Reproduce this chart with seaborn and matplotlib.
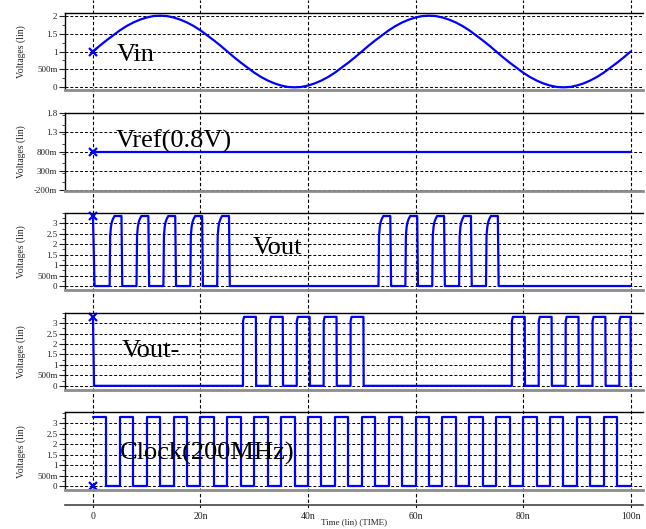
import numpy as np
import pandas as pd
import matplotlib
matplotlib.use("Agg")
import matplotlib.pyplot as plt
from matplotlib.ticker import MultipleLocator
import seaborn as sns

# ---------------- data ----------------
vin_time = [0.00, 1.25, 2.50, 3.75, 5.00, 6.25, 7.50, 8.75, 10.00, 11.25,
            12.50, 13.75, 15.00, 16.25, 17.50, 18.75, 20.00, 21.25, 22.50, 23.75,
            25.00, 26.25, 27.50, 28.75, 30.00, 31.25, 32.50, 33.75, 35.00, 36.25,
            37.50, 38.75, 40.00, 41.25, 42.50, 43.75, 45.00, 46.25, 47.50, 48.75,
            50.00, 51.25, 52.50, 53.75, 55.00, 56.25, 57.50, 58.75, 60.00, 61.25,
            62.50, 63.75, 65.00, 66.25, 67.50, 68.75, 70.00, 71.25, 72.50, 73.75,
            75.00, 76.25, 77.50, 78.75, 80.00, 81.25, 82.50, 83.75, 85.00, 86.25,
            87.50, 88.75, 90.00, 91.25, 92.50, 93.75, 95.00, 96.25, 97.50, 98.75,
            100.00]
vin_volts = [1.00, 1.16, 1.31, 1.45, 1.59, 1.71, 1.81, 1.89, 1.95, 1.99,
             2.00, 1.99, 1.95, 1.89, 1.81, 1.71, 1.59, 1.45, 1.31, 1.16,
             1.00, 0.84, 0.69, 0.55, 0.41, 0.29, 0.19, 0.11, 0.05, 0.01,
             0.00, 0.01, 0.05, 0.11, 0.19, 0.29, 0.41, 0.55, 0.69, 0.84,
             1.00, 1.16, 1.31, 1.45, 1.59, 1.71, 1.81, 1.89, 1.95, 1.99,
             2.00, 1.99, 1.95, 1.89, 1.81, 1.71, 1.59, 1.45, 1.31, 1.16,
             1.00, 0.84, 0.69, 0.55, 0.41, 0.29, 0.19, 0.11, 0.05, 0.01,
             0.00, 0.01, 0.05, 0.11, 0.19, 0.29, 0.41, 0.55, 0.69, 0.84,
             1.00]

vref_time = [0.0, 100.0]
vref_volts = [0.8, 0.8]

# Vout: initial level, pulse start times and the shape of one pulse
vout_init_t = [0.0, 0.3]
vout_init_v = [3.35, 0.0]
vout_pulses = [2.5, 7.5, 12.5, 17.5, 22.5, 52.5, 57.5, 62.5, 67.5, 72.5]
vout_shape_dt = [0.6, 0.7, 0.85, 1.0, 1.2, 1.5, 2.8, 2.95]
vout_shape_v = [0.0, 2.4, 2.85, 3.05, 3.2, 3.35, 3.35, 0.0]
vout_end_t = [100.0]
vout_end_v = [0.0]

# Vout-
voutn_init_t = [0.0, 0.2]
voutn_init_v = [3.3, 0.0]
voutn_pulses = [27.5, 32.5, 37.5, 42.5, 47.5, 77.5, 82.5, 87.5, 92.5, 97.5]
voutn_shape_dt = [0.4, 0.42, 0.6, 2.8, 2.85]
voutn_shape_v = [0.0, 3.1, 3.3, 3.3, 0.0]
voutn_end_t = [100.0]
voutn_end_v = [0.0]

# Clock (200 MHz): edge times and the level after each edge
clock_edges = [0.0, 2.5, 5.0, 7.5, 10.0, 12.5, 15.0, 17.5, 20.0, 22.5,
               25.0, 27.5, 30.0, 32.5, 35.0, 37.5, 40.0, 42.5, 45.0, 47.5,
               50.0, 52.5, 55.0, 57.5, 60.0, 62.5, 65.0, 67.5, 70.0, 72.5,
               75.0, 77.5, 80.0, 82.5, 85.0, 87.5, 90.0, 92.5, 95.0, 97.5,
               100.0]
clock_levels = [3.3, 0.0, 3.3, 0.0, 3.3, 0.0, 3.3, 0.0, 3.3, 0.0,
                3.3, 0.0, 3.3, 0.0, 3.3, 0.0, 3.3, 0.0, 3.3, 0.0,
                3.3, 0.0, 3.3, 0.0, 3.3, 0.0, 3.3, 0.0, 3.3, 0.0,
                3.3, 0.0, 3.3, 0.0, 3.3, 0.0, 3.3, 0.0, 3.3, 0.0,
                0.0]
clock_marker = [0.0, 0.0]

panel_names = ["Vin", "Vref(0.8V)", "Vout", "Vout-", "Clock(200MHz)"]
x_ticks = [0, 20, 40, 60, 80, 100]
x_ticklabels = ["0", "20n", "40n", "60n", "80n", "100n"]
y_ticks_vin = [0, 0.5, 1, 1.5, 2]
y_labels_vin = ["0", "500m", "1", "1.5", "2"]
y_ticks_vref = [-0.2, 0.3, 0.8, 1.3, 1.8]
y_labels_vref = ["-200m", "300m", "800m", "1.3", "1.8"]
y_ticks_dig = [0, 0.5, 1, 1.5, 2, 2.5, 3]
y_labels_dig = ["0", "500m", "1", "1.5", "2", "2.5", "3"]


def build(init_t, init_v, starts, dt, lv, end_t, end_v):
    t = list(init_t)
    v = list(init_v)
    for s in starts:
        t += [s + d for d in dt]
        v += list(lv)
    t += list(end_t)
    v += list(end_v)
    t = np.minimum(np.array(t), 100.0)
    return pd.DataFrame({"t": t, "v": v})


df_vin = pd.DataFrame({"t": vin_time, "v": vin_volts})
df_vref = pd.DataFrame({"t": vref_time, "v": vref_volts})
df_vout = build(vout_init_t, vout_init_v, vout_pulses, vout_shape_dt, vout_shape_v,
                vout_end_t, vout_end_v)
df_voutn = build(voutn_init_t, voutn_init_v, voutn_pulses, voutn_shape_dt, voutn_shape_v,
                 voutn_end_t, voutn_end_v)
df_clock = pd.DataFrame({"t": clock_edges, "v": clock_levels})

# ---------------- style ----------------
sns.set_style("white")
plt.rcParams["font.family"] = ["Liberation Serif", "DejaVu Serif"]

W, H = 646, 529
fig = plt.figure(figsize=(W / 100, H / 100), dpi=100)


def box(left, top, right, bottom):
    return [left / W, 1 - bottom / H, (right - left) / W, (bottom - top) / H]


XLIM = (-5.2, 102.3)
BLUE = "#0000ff"
DASH = (0, (3, 2))

# background axes carrying the vertical dashed grid through the whole figure
bg = fig.add_axes(box(65, 0, 643, 508), zorder=0)
bg.set_xlim(*XLIM)
bg.axis("off")
for xt in x_ticks:
    bg.axvline(xt, color="black", lw=0.8, linestyle=DASH)

panels = [
    dict(box=(65, 13.3, 643, 90), ylim=(-0.075, 2.067), ticks=y_ticks_vin,
         labels=y_labels_vin, df=df_vin, marker=(vin_time[0], vin_volts[0]),
         text=(4.4, 0.74), step=False),
    dict(box=(65, 113.3, 643, 190.7), ylim=(-0.22, 1.8), ticks=y_ticks_vref,
         labels=y_labels_vref, df=df_vref, marker=(vref_time[0], vref_volts[0]),
         text=(4.3, 0.91), step=False),
    dict(box=(65, 212.7, 643, 290), ylim=(-0.19, 3.51), ticks=y_ticks_dig,
         labels=y_labels_dig, df=df_vout, marker=(vout_init_t[0], vout_init_v[0]),
         text=(29.8, 1.53), step=False),
    dict(box=(65, 312.7, 643, 390), ylim=(-0.2, 3.5), ticks=y_ticks_dig,
         labels=y_labels_dig, df=df_voutn, marker=(voutn_init_t[0], voutn_init_v[0]),
         text=(5.4, 1.39), step=False),
    dict(box=(65, 412.3, 643, 490), ylim=(-0.19, 3.51), ticks=y_ticks_dig,
         labels=y_labels_dig, df=df_clock, marker=tuple(clock_marker),
         text=(5.0, 1.24), step=True),
]

for name, p in zip(panel_names, panels):
    ax = fig.add_axes(box(*p["box"]), zorder=2)
    ax.set_facecolor("none")
    kw = dict(drawstyle="steps-post") if p["step"] else {}
    sns.lineplot(data=p["df"], x="t", y="v", ax=ax, color=BLUE, lw=1.6,
                 estimator=None, sort=False, legend=False, **kw)
    ax.plot([p["marker"][0]], [p["marker"][1]], marker="x", color=BLUE,
            ms=6, mew=1.6, ls="none", clip_on=False)
    ax.set_xlim(*XLIM)
    ax.set_ylim(*p["ylim"])
    ax.set_yticks(p["ticks"])
    ax.set_yticklabels(p["labels"])
    ax.yaxis.set_minor_locator(MultipleLocator(0.25))
    ax.set_xticks([])
    ax.yaxis.grid(True, which="major", color="black", lw=0.7, linestyle=DASH)
    ax.xaxis.grid(False)
    ax.set_axisbelow(True)
    ax.tick_params(axis="y", which="major", direction="out", length=4, width=0.8,
                   labelsize=6.5, pad=1.5, colors="#222222", left=True)
    ax.tick_params(axis="y", which="minor", direction="out", length=2.5, width=0.6,
                   left=True)
    for side in ("left", "top"):
        ax.spines[side].set_color("black")
        ax.spines[side].set_linewidth(1.0)
    ax.spines["right"].set_visible(False)
    ax.spines["bottom"].set_color("#8c8c8c")
    ax.spines["bottom"].set_linewidth(2.0)
    ax.set_xlabel("")
    ax.set_ylabel("Voltages (lin)", fontsize=7, color="#222222")
    ax.yaxis.set_label_coords(-0.068, 0.5)
    ax.text(p["text"][0], p["text"][1], name, fontsize=19, ha="left",
            va="baseline", color="black")

# bottom time axis
tx = fig.add_axes(box(65, 503.5, 643, 504.5), zorder=1)
tx.set_facecolor("none")
tx.set_xlim(*XLIM)
tx.set_yticks([])
for side in ("left", "right", "top"):
    tx.spines[side].set_visible(False)
tx.spines["bottom"].set_color("#444444")
tx.spines["bottom"].set_linewidth(1.2)
tx.set_xticks(x_ticks)
tx.set_xticklabels(x_ticklabels)
tx.xaxis.set_minor_locator(MultipleLocator(2.5))
tx.tick_params(axis="x", which="major", direction="out", length=3, width=0.8,
               labelsize=7, pad=2.5, colors="#222222")
tx.tick_params(axis="x", which="minor", direction="out", length=2.5, width=0.7)
tx.set_xlabel("Time (lin) (TIME)", fontsize=6.5, labelpad=-2, color="#222222")

fig.savefig("out.png", dpi=100)
